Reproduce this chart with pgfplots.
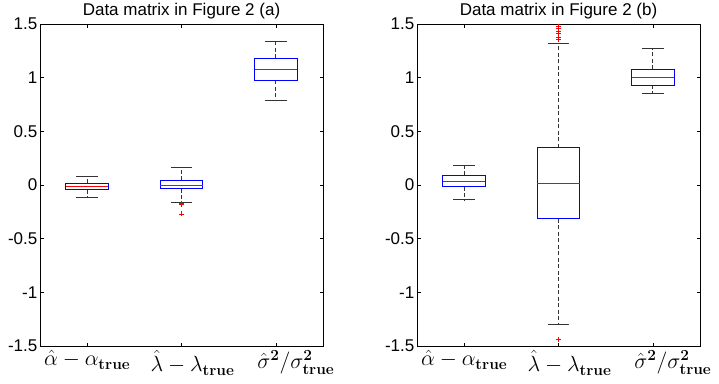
\RequirePackage{fix-cm}
\documentclass[border=0pt]{standalone}
\usepackage{pgfplots}
\pgfplotsset{compat=1.18}
\usepgfplotslibrary{statistics}
\usepackage[no-math]{fontspec}
\setmainfont{Liberation Sans}
\begin{document}
\begin{tikzpicture}
\path[use as bounding box] (0,0) rectangle (719pt,383pt);
\pgfplotsset{
  mybox/.style={
    width=283pt, height=322pt, scale only axis,
    anchor=south west,
    xmin=0.5, xmax=3.5, ymin=-1.5, ymax=1.5,
    xtick={1,2,3},
    xticklabels={$\hat{\alpha}-\alpha_{\mathbf{true}}$,
      \hspace*{22pt}$\hat{\lambda}-\lambda_{\mathbf{true}}$,
      \hspace*{40pt}$\hat{\sigma}^{\mathbf{2}}/\sigma^{\mathbf{2}}_{\mathbf{true}}$},
    ytick={-1.5,-1,-0.5,0,0.5,1,1.5},
    yticklabels={-1.5,-1,-0.5,0,0.5,1,1.5},
    tick align=inside, major tick length=3.5pt,
    tick style={black, line width=0.6pt},
    axis line style={line width=0.8pt},
    yticklabel style={font=\fontsize{17}{20}\selectfont, inner xsep=2.5pt},
    xticklabel style={font=\fontsize{22}{24}\selectfont, inner ysep=4.5pt},
    title style={font=\fontsize{17}{20}\selectfont, yshift=-5pt},
    boxplot/draw direction=y,
    boxplot/box extend=0.45,
    boxplot/whisker extend=0.23,
    boxplot/every box/.style={draw=blue, line width=0.9pt},
    boxplot/every median/.style={draw=red, line width=1pt},
    boxplot/every whisker/.style={draw=black!80, line width=0.9pt},
    boxplot/draw/lower whisker/.code={%
      \draw[/pgfplots/boxplot/every whisker/.try, dash pattern=on 4pt off 2.5pt]
        (boxplot cs:\pgfplotsboxplotvalue{lower quartile}) -- (boxplot cs:\pgfplotsboxplotvalue{lower whisker});
      \draw[/pgfplots/boxplot/every whisker/.try]
        (boxplot whisker cs:\pgfplotsboxplotvalue{lower whisker},0) -- (boxplot whisker cs:\pgfplotsboxplotvalue{lower whisker},1);
    },
    boxplot/draw/upper whisker/.code={%
      \draw[/pgfplots/boxplot/every whisker/.try, dash pattern=on 4pt off 2.5pt]
        (boxplot cs:\pgfplotsboxplotvalue{upper quartile}) -- (boxplot cs:\pgfplotsboxplotvalue{upper whisker});
      \draw[/pgfplots/boxplot/every whisker/.try]
        (boxplot whisker cs:\pgfplotsboxplotvalue{upper whisker},0) -- (boxplot whisker cs:\pgfplotsboxplotvalue{upper whisker},1);
    },
  },
  outl/.style={mark=+, mark size=2.5pt, mark options={red, solid, line width=0.7pt}},
  med/.style={red, line width=1pt, no marks, solid},
}
\begin{axis}[mybox, at={(40pt,37pt)}, title={Data matrix in Figure 2 (a)}]
\addplot[boxplot prepared={draw position=1, lower whisker=-0.115, lower quartile=-0.046,
  median=-0.016, upper quartile=0.015, upper whisker=0.08}] coordinates {};
\addplot[outl, boxplot prepared={draw position=2, lower whisker=-0.16, lower quartile=-0.034,
  median=0.0, upper quartile=0.046, upper whisker=0.163}]
  table[row sep=\\, y index=0] {data\\ -0.172\\ -0.178\\ -0.27\\};
\addplot[boxplot prepared={draw position=3, lower whisker=0.79, lower quartile=0.978,
  median=1.074, upper quartile=1.18, upper whisker=1.336}] coordinates {};
\addplot[med] coordinates {(0.775,-0.016) (1.225,-0.016)};
\addplot[med] coordinates {(1.775,0.0) (2.225,0.0)};
\addplot[med] coordinates {(2.775,1.074) (3.225,1.074)};
\end{axis}
\begin{axis}[mybox, at={(417pt,37pt)}, title={Data matrix in Figure 2 (b)}]
\addplot[boxplot prepared={draw position=1, lower whisker=-0.139, lower quartile=-0.016,
  median=0.034, upper quartile=0.093, upper whisker=0.179}] coordinates {};
\addplot[outl, boxplot prepared={draw position=2, lower whisker=-1.30, lower quartile=-0.315,
  median=0.018, upper quartile=0.348, upper whisker=1.32}]
  table[row sep=\\, y index=0] {data\\ 1.36\\ 1.38\\ 1.41\\ 1.43\\ 1.46\\ 1.48\\ -1.44\\};
\addplot[boxplot prepared={draw position=3, lower whisker=0.857, lower quartile=0.932,
  median=1.003, upper quartile=1.08, upper whisker=1.274}] coordinates {};
\addplot[med] coordinates {(0.775,0.034) (1.225,0.034)};
\addplot[med] coordinates {(1.775,0.018) (2.225,0.018)};
\addplot[med] coordinates {(2.775,1.003) (3.225,1.003)};
\end{axis}
\end{tikzpicture}
\end{document}
